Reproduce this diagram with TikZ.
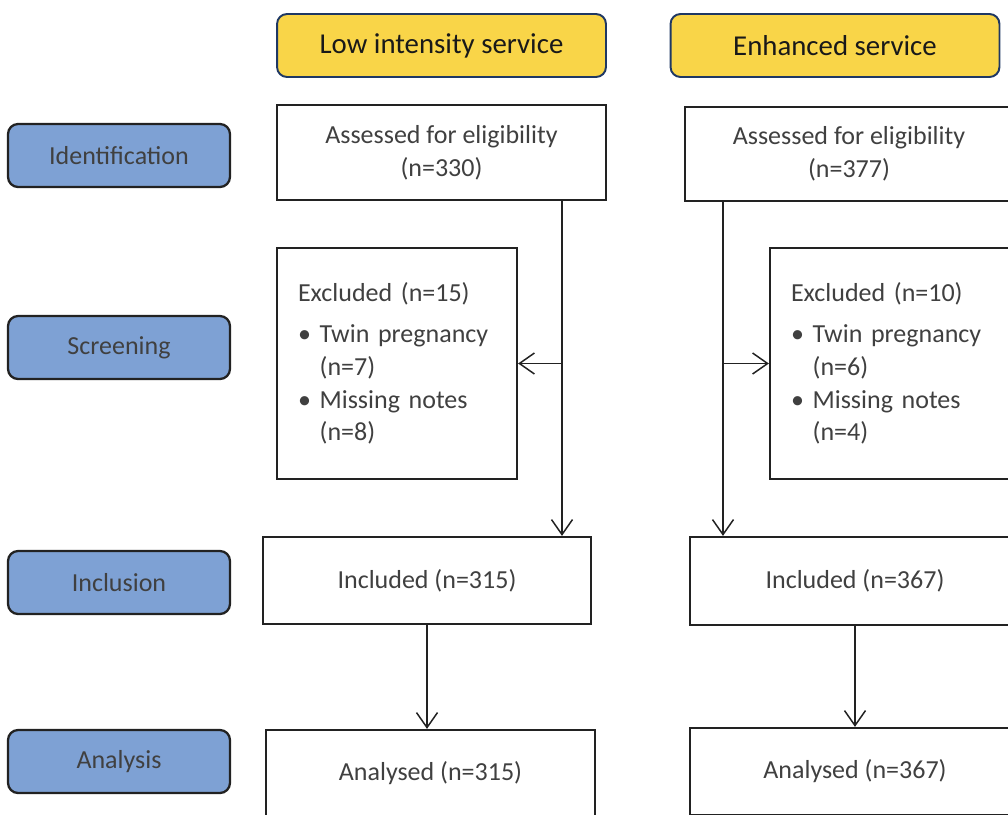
\documentclass[tikz,border=0pt]{standalone}
\usepackage{fontspec}
\setmainfont{Carlito}
\usepackage{tikz}
\usetikzlibrary{arrows.meta,calc}

\definecolor{hdrfill}{RGB}{249,213,72}
\definecolor{hdrline}{RGB}{31,56,100}
\definecolor{stagefill}{RGB}{126,161,212}
\definecolor{boxline}{RGB}{34,34,34}
\definecolor{txtgray}{RGB}{64,64,64}

\begin{document}
\begin{tikzpicture}[x=0.02cm,y=-0.02cm,
  header/.style={draw=hdrline,line width=1.1pt,fill=hdrfill,rounded corners=0.2cm,
    minimum width=6.58cm,minimum height=1.26cm,inner sep=0pt,
    text=black!90,font=\fontsize{16.4pt}{19pt}\selectfont},
  stage/.style={draw=boxline,line width=1.3pt,fill=stagefill,rounded corners=0.2cm,
    minimum width=4.44cm,minimum height=1.26cm,inner sep=0pt,
    text=txtgray,font=\fontsize{14.8pt}{18.7pt}\selectfont},
  flowbox/.style={draw=boxline,line width=1.3pt,fill=white,inner sep=0pt,
    align=center,text=txtgray,font=\fontsize{14.8pt}{18.7pt}\selectfont},
  exclbox/.style={flowbox,align=left,text width=3.96cm,inner xsep=0.42cm,
    minimum width=4.8cm,minimum height=4.62cm},
  arr/.style={draw=boxline,line width=0.85pt,-{Straight Barb[length=0.3cm,width=0.42cm]}}]
  \useasboundingbox (0,0) rectangle (1008,815);
  \clip (0,0) rectangle (1008,815);

  % column headers
  \node[header] (hdrL) at (441.5,45.5) {Low intensity service};
  \node[header] (hdrR) at (835,45.5) {Enhanced service};

  % stages
  \node[stage] (sId) at (119,155.5) {Identification};
  \node[stage] (sScr) at (119,347.5) {Screening};
  \node[stage] (sInc) at (119,582.5) {Inclusion};
  \node[stage] (sAna) at (119,761.5) {Analysis};

  % low intensity column
  \node[flowbox,minimum width=6.58cm,minimum height=1.9cm] (assessL) at (441.5,152.5)
    {Assessed for eligibility\\(n=330)};
  \node[exclbox] (exclL) at (397,363.5)
    {Excluded (n=15)\\[4.5pt]
     \textbullet\ Twin pregnancy\\ \phantom{\textbullet\ }(n=7)\\
     \textbullet\ Missing notes\\ \phantom{\textbullet\ }(n=8)};
  \node[flowbox,minimum width=6.56cm,minimum height=1.74cm] (inclL) at (427,580.5)
    {Included (n=315)};
  \node[flowbox,minimum width=6.58cm,minimum height=1.74cm] (analL) at (430.5,773.5)
    {Analysed (n=315)};

  % enhanced column
  \node[flowbox,minimum width=6.56cm,minimum height=1.88cm] (assessR) at (849,154)
    {Assessed for eligibility\\(n=377)};
  \node[exclbox] (exclR) at (890,363.5)
    {Excluded (n=10)\\[4.5pt]
     \textbullet\ Twin pregnancy\\ \phantom{\textbullet\ }(n=6)\\
     \textbullet\ Missing notes\\ \phantom{\textbullet\ }(n=4)};
  \node[flowbox,minimum width=6.6cm,minimum height=1.76cm] (inclR) at (855,581)
    {Included (n=367)};
  \node[flowbox,minimum width=6.6cm,minimum height=1.74cm] (analR) at (855,771.5)
    {Analysed (n=367)};

  % connectors
  \coordinate (splitL) at (562,203);
  \coordinate (splitR) at (723,203);
  \draw[arr] (splitL |- assessL.south) -- (splitL |- inclL.north);
  \draw[arr] (splitL |- exclL.east) -- (exclL.east);
  \draw[arr] (splitR |- assessR.south) -- (splitR |- inclR.north);
  \draw[arr] (splitR |- exclR.west) -- (exclR.west);
  \draw[arr] (inclL.south) -- (inclL.south |- analL.north);
  \draw[arr] (inclR.south) -- (inclR.south |- analR.north);
\end{tikzpicture}
\end{document}
